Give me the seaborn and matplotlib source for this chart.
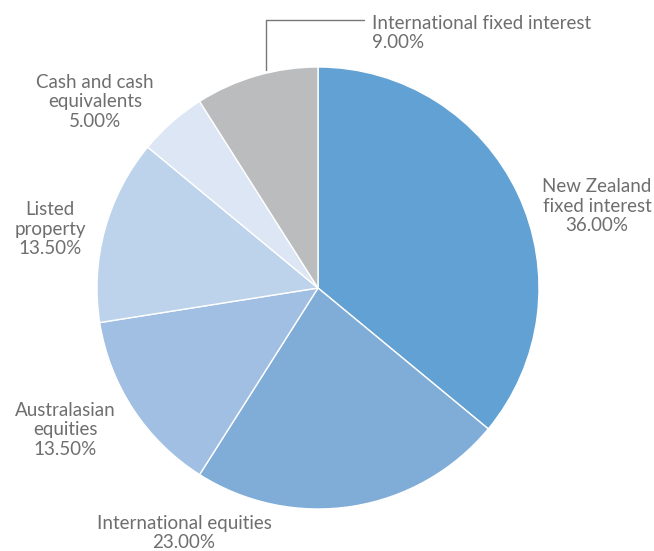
import matplotlib
matplotlib.use('Agg')
import matplotlib.pyplot as plt
import seaborn as sns

sns.set_theme(style='white')
plt.rcParams['font.family'] = ['Lato', 'DejaVu Sans']

# ===================== data =====================
labels = ['New Zealand\nfixed interest', 'International equities', 'Australasian\nequities',
          'Listed\nproperty', 'Cash and cash\nequivalents', 'International fixed interest']
shares = [36.00, 23.00, 13.50, 13.50, 5.00, 9.00]
colors = ['#62A1D3', '#80ADD8', '#A0BFE2', '#BDD3EB', '#DCE6F4', '#BBBCBE']

# label anchor (pixel coords, y from top) and alignment
label_pos = [(597, 206, 'center'), (184, 533, 'center'), (65, 430, 'center'),
             (50, 229, 'center'), (95, 102, 'center'), (372, 33, 'left')]

W, H = 654, 551
fig = plt.figure(figsize=(W / 100, H / 100), dpi=100)
ax = fig.add_axes([0, 0, 1, 1])

cx, cy, r = 318, H - 288, 221
ax.pie(shares, colors=colors, startangle=90, counterclock=False,
       center=(cx, cy), radius=r, frame=True,
       wedgeprops={'edgecolor': 'white', 'linewidth': 1.0})
ax.set_xlim(0, W)
ax.set_ylim(0, H)
ax.set_aspect('equal')
ax.axis('off')

txt_color = '#6e6e6e'
for lab, val, (x, y, ha) in zip(labels, shares, label_pos):
    ax.text(x, H - y, f'{lab}\n{val:.2f}%', ha=ha, va='center', fontsize=13.5,
            color=txt_color, linespacing=1.2)

# leader line for the small grey wedge
ax.plot([266, 266, 364], [H - 70, H - 20, H - 20], color='#777777', lw=1.0)

fig.savefig('out.png', dpi=100)
